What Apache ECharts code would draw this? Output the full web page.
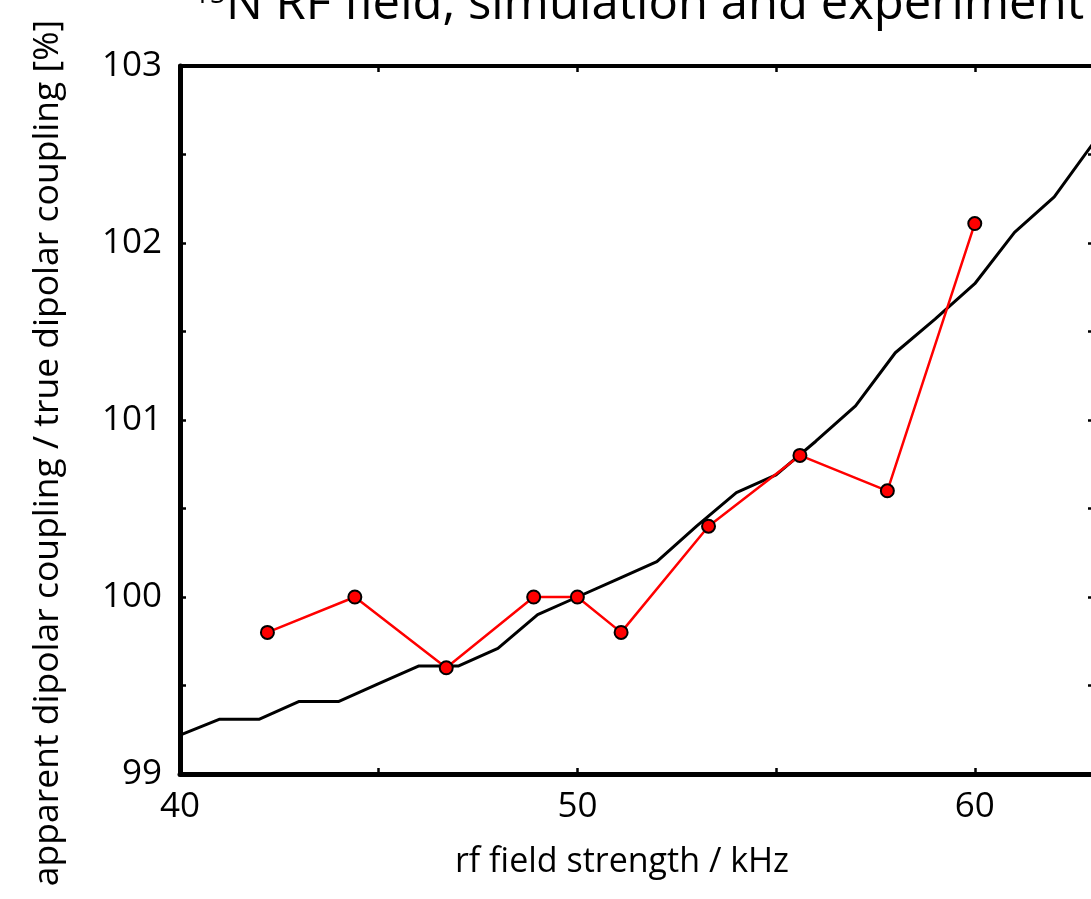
<!DOCTYPE html>
<html>
<head>
    <meta charset="utf-8" />
    <title>15N RF field</title>
    <style>
        html, body { margin: 0; padding: 0; background: #fff; }
        #main { width: 1091px; height: 899px; }
    </style>
</head>
<body>
    <div id="main"></div>
</body>
<script src="https://cdn.jsdelivr.net/npm/echarts@6/dist/echarts.min.js"></script>
<script>
    // simulation (black line), one point per kHz
    var simX = [40, 41, 42, 43, 44, 45, 46, 47, 48, 49, 50, 51, 52, 53, 54, 55, 56, 57, 58, 59, 60, 61, 62, 63];
    var simY = [99.22, 99.31, 99.31, 99.41, 99.41, 99.51, 99.61, 99.61, 99.71, 99.90, 100.00, 100.10,
                100.20, 100.40, 100.59, 100.69, 100.88, 101.08, 101.38, 101.57, 101.77, 102.06, 102.26, 102.57];

    // experiment (red points)
    var expX = [42.2, 44.4, 46.7, 48.9, 50.0, 51.1, 53.3, 55.6, 57.8, 60.0];
    var expY = [99.8, 100.0, 99.6, 100.0, 100.0, 99.8, 100.4, 100.8, 100.6, 102.11];

    var xLabels = [40, 50, 60];
    var yLabels = [99, 100, 101, 102, 103];

    function pairs(xs, ys) {
        return xs.map(function (x, i) { return [x, ys[i]]; });
    }

    var font = 'Open Sans';
    var chart = echarts.init(document.getElementById('main'));

    var axisLine = { show: true, lineStyle: { color: '#000', width: 5 } };
    var axisLineThin = { show: true, lineStyle: { color: '#000', width: 4 } };
    var ticks = { show: true, inside: true, length: 6, lineStyle: { color: '#000', width: 2.5 } };

    var option = {
        animation: false,
        backgroundColor: '#fff',
        title: {
            text: '{sup|15}N RF field, simulation and experiment',
            left: 634,
            top: -24,
            textAlign: 'center',
            textStyle: {
                fontFamily: font,
                fontSize: 49,
                fontWeight: 'normal',
                color: '#000',
                rich: {
                    sup: { fontFamily: font, fontSize: 28, verticalAlign: 'top', color: '#000' }
                }
            }
        },
        grid: { left: 180, top: 66, right: -3, bottom: 125, containLabel: false, outerBoundsMode: 'none' },
        xAxis: [{
            type: 'value',
            position: 'bottom',
            min: 40,
            max: 63,
            interval: 5,
            name: 'rf field strength / kHz',
            nameLocation: 'middle',
            nameGap: 71,
            nameTextStyle: { fontFamily: font, fontSize: 34, color: '#000', padding: [0, 30, 0, 0] },
            axisLine: axisLine,
            axisTick: ticks,
            splitLine: { show: false },
            axisLabel: {
                fontFamily: font,
                fontSize: 35,
                color: '#000',
                margin: 16,
                formatter: function (v) { return xLabels.indexOf(v) >= 0 ? String(v) : ''; }
            }
        }, {
            type: 'value',
            position: 'top',
            min: 40,
            max: 63,
            interval: 5,
            axisLine: axisLineThin,
            axisTick: ticks,
            axisLabel: { show: false },
            splitLine: { show: false }
        }],
        yAxis: [{
            type: 'value',
            position: 'left',
            min: 99,
            max: 103,
            interval: 0.5,
            name: 'apparent dipolar coupling / true dipolar coupling [%]',
            nameLocation: 'middle',
            nameGap: 114,
            nameTextStyle: { fontFamily: font, fontSize: 35.5, color: '#000', padding: [0, 66, 0, 0] },
            axisLine: axisLine,
            axisTick: ticks,
            splitLine: { show: false },
            axisLabel: {
                fontFamily: font,
                fontSize: 35,
                color: '#000',
                margin: 18,
                formatter: function (v) { return yLabels.indexOf(v) >= 0 ? String(v) : ''; }
            }
        }, {
            type: 'value',
            position: 'right',
            min: 99,
            max: 103,
            interval: 0.5,
            axisLine: axisLineThin,
            axisTick: ticks,
            axisLabel: { show: false },
            splitLine: { show: false }
        }],
        series: [{
            name: 'simulation',
            type: 'line',
            data: pairs(simX, simY),
            showSymbol: false,
            lineStyle: { color: '#000', width: 3 },
            z: 2
        }, {
            name: 'experiment',
            type: 'line',
            data: pairs(expX, expY),
            symbol: 'circle',
            symbolSize: 13,
            lineStyle: { color: '#ff0000', width: 2.5 },
            itemStyle: { color: '#ff0000', borderColor: '#000', borderWidth: 2 },
            z: 3
        }]
    };

    chart.setOption(option);
</script>
</html>
